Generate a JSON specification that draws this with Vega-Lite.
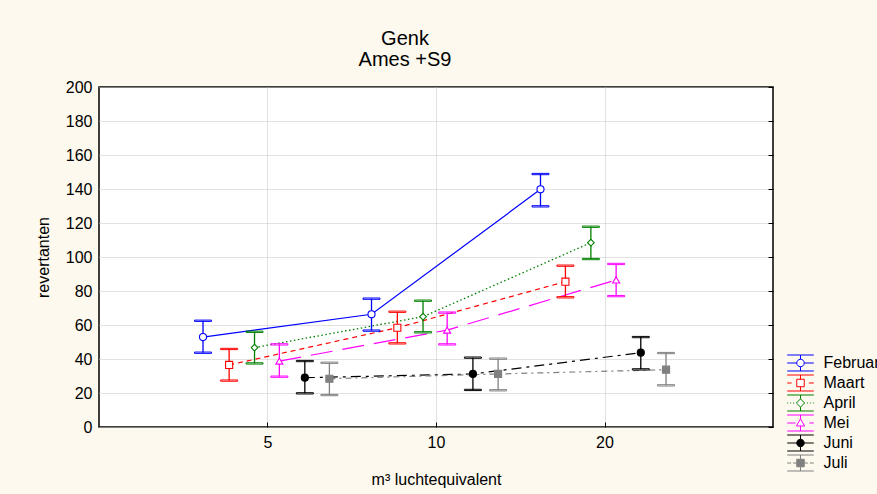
{
  "$schema": "https://vega.github.io/schema/vega-lite/v6.json",
  "autosize": {"type": "none"},
  "width": 674,
  "height": 340,
  "padding": {"left": 99, "top": 87, "right": 104, "bottom": 67},
  "background": "#fdf9ee",
  "title": {
    "text": ["Genk", "Ames +S9"],
    "font": "Liberation Sans",
    "fontSize": 20,
    "fontWeight": "normal",
    "color": "#000000",
    "anchor": "middle",
    "dx": -31,
    "offset": 9,
    "lineHeight": 21
  },
  "data": {
    "values": [
      {"maand": "Februari", "x": 3.835, "y": 52.9, "lo": 43.7, "hi": 62.5},
      {"maand": "Februari", "x": 7.67, "y": 66.3, "lo": 56.7, "hi": 75.5},
      {"maand": "Februari", "x": 15.37, "y": 139.8, "lo": 129.8, "hi": 148.8},
      {"maand": "Maart", "x": 4.27, "y": 36.5, "lo": 27.3, "hi": 45.9},
      {"maand": "Maart", "x": 8.53, "y": 58.4, "lo": 49.2, "hi": 67.8},
      {"maand": "Maart", "x": 17.03, "y": 85.5, "lo": 76.3, "hi": 94.9},
      {"maand": "April", "x": 4.74, "y": 46.7, "lo": 37.4, "hi": 56.0},
      {"maand": "April", "x": 9.48, "y": 64.9, "lo": 55.7, "hi": 74.3},
      {"maand": "April", "x": 18.91, "y": 108.4, "lo": 98.8, "hi": 117.8},
      {"maand": "Mei", "x": 5.25, "y": 38.8, "lo": 29.6, "hi": 48.6},
      {"maand": "Mei", "x": 10.47, "y": 57.0, "lo": 48.6, "hi": 67.3},
      {"maand": "Mei", "x": 20.98, "y": 86.5, "lo": 77.0, "hi": 95.9},
      {"maand": "Juni", "x": 5.83, "y": 29.0, "lo": 19.8, "hi": 38.8},
      {"maand": "Juni", "x": 11.64, "y": 31.2, "lo": 21.8, "hi": 40.8},
      {"maand": "Juni", "x": 23.22, "y": 43.7, "lo": 33.9, "hi": 52.9},
      {"maand": "Juli", "x": 6.45, "y": 28.4, "lo": 18.8, "hi": 37.8},
      {"maand": "Juli", "x": 12.91, "y": 31.2, "lo": 21.6, "hi": 40.2},
      {"maand": "Juli", "x": 25.76, "y": 33.7, "lo": 24.5, "hi": 43.5}
    ]
  },
  "resolve": {"axis": {"y": "independent"}},
  "encoding": {
    "x": {
      "field": "x",
      "type": "quantitative",
      "scale": {"type": "log", "domain": [2.5, 40], "nice": false},
      "axis": {
        "values": [5, 10, 20],
        "format": "d",
        "title": "m³ luchtequivalent",
        "offset": -5,
        "ticks": true,
        "tickSize": 5,
        "tickColor": "#000000",
        "labelPadding": 7,
        "titlePadding": 21
      }
    },
    "y": {
      "field": "y",
      "type": "quantitative",
      "scale": {"domain": [0, 200], "nice": false},
      "axis": null
    },
    "stroke": {
      "field": "maand", "type": "nominal",
      "scale": {
        "domain": ["Februari", "Maart", "April", "Mei", "Juni", "Juli"],
        "range": ["#0000ff", "#ff0000", "#008000", "#ff00ff", "#000000", "#808080"]
      }
    }
  },
  "layer": [
    {
      "transform": [{"filter": "datum.maand === 'Februari'"}],
      "mark": {"type": "line", "strokeWidth": 1.2},
      "encoding": {
        "y": {
          "field": "y",
          "type": "quantitative",
          "axis": {
            "values": [0, 20, 40, 60, 80, 100, 120, 140, 160, 180, 200],
            "title": "revertanten",
            "labelPadding": 7,
            "titlePadding": 14
          }
        }
      }
    },
    {
      "transform": [{"filter": "datum.maand === 'Maart'"}],
      "mark": {"type": "line", "strokeWidth": 1.2, "strokeDash": [5, 4]}
    },
    {
      "transform": [{"filter": "datum.maand === 'April'"}],
      "mark": {"type": "line", "strokeWidth": 1.3, "strokeDash": [1.5, 2.5]}
    },
    {
      "transform": [{"filter": "datum.maand === 'Mei'"}],
      "mark": {"type": "line", "strokeWidth": 1.2, "strokeDash": [22, 10]}
    },
    {
      "transform": [{"filter": "datum.maand === 'Juni'"}],
      "mark": {"type": "line", "strokeWidth": 1.2, "strokeDash": [10, 5, 3, 5]}
    },
    {
      "transform": [{"filter": "datum.maand === 'Juli'"}],
      "mark": {"type": "line", "strokeWidth": 1.2, "strokeDash": [6, 4, 2, 4]}
    },
    {
      "mark": {"type": "rule", "strokeWidth": 1.3},
      "encoding": {
        "y": {"field": "lo", "type": "quantitative", "axis": null},
        "y2": {"field": "hi"}
      }
    },
    {
      "mark": {"type": "tick", "orient": "horizontal", "size": 17, "thickness": 1.3, "opacity": 1},
      "encoding": {
        "y": {"field": "lo", "type": "quantitative", "axis": null},
        "color": {"value": null}
      }
    },
    {
      "mark": {"type": "tick", "orient": "horizontal", "size": 17, "thickness": 1.3, "opacity": 1},
      "encoding": {
        "y": {"field": "hi", "type": "quantitative", "axis": null},
        "color": {"value": null}
      }
    },
    {
      "transform": [{"filter": "datum.maand === 'Februari' || datum.maand === 'Juni'"}],
      "mark": {"type": "point", "shape": "circle", "size": 50, "opacity": 1, "strokeWidth": 1.1},
      "encoding": {
        "fill": {
          "field": "maand", "type": "nominal",
          "scale": {
            "domain": ["Februari", "Maart", "April", "Mei", "Juni", "Juli"],
            "range": ["#ffffff", "#ffffff", "#ffffff", "#ffffff", "#000000", "#808080"]
          }
        }
      }
    },
    {
      "transform": [{"filter": "datum.maand === 'Maart' || datum.maand === 'Juli'"}],
      "mark": {"type": "point", "shape": "square", "size": 50, "opacity": 1, "strokeWidth": 1.1},
      "encoding": {
        "fill": {"field": "maand", "type": "nominal"}
      }
    },
    {
      "transform": [{"filter": "datum.maand === 'April'"}],
      "mark": {"type": "point", "shape": "diamond", "size": 45, "opacity": 1, "strokeWidth": 1.1},
      "encoding": {
        "fill": {"field": "maand", "type": "nominal"}
      }
    },
    {
      "transform": [{"filter": "datum.maand === 'Mei'"}],
      "mark": {"type": "point", "shape": "triangle-up", "size": 50, "opacity": 1, "strokeWidth": 1.1},
      "encoding": {
        "fill": {"field": "maand", "type": "nominal"}
      }
    },
    {
      "transform": [{"filter": "false"}],
      "mark": {"type": "point", "opacity": 1, "strokeWidth": 1},
      "encoding": {
        "y": {
          "field": "y",
          "type": "quantitative",
          "axis": {
            "orient": "right",
            "offset": -5,
            "values": [0, 20, 40, 60, 80, 100, 120, 140, 160, 180, 200],
            "labels": false,
            "grid": false,
            "title": null,
            "ticks": true,
            "tickSize": 5,
            "tickColor": "#000000"
          }
        },
        "shape": {
          "field": "maand", "type": "nominal",
          "scale": {
            "domain": ["Februari", "Maart", "April", "Mei", "Juni", "Juli"],
            "range": [
              "M-1.42,-0.855H1.42M-1.42,0.855H1.42M0,-0.855V-0.4M0,0.4V0.855M-1.42,0H-0.4M0.4,0H1.42M0.4,0A0.4,0.4 0 1 1 -0.4,0A0.4,0.4 0 1 1 0.4,0Z",
              "M-1.42,-0.855H1.42M-1.42,0.855H1.42M0,-0.855V-0.4M0,0.4V0.855M-1.42,0H-0.95M0.9,0H1.42M-0.4,-0.4H0.4V0.4H-0.4Z",
              "M-1.42,-0.855H1.42M-1.42,0.855H1.42M0,-0.855V-0.44M0,0.44V0.855M-1.42,0H-1.32M-1.1,0H-1.0M-0.79,0H-0.68M0.68,0H0.79M1.0,0H1.1M1.32,0H1.42M0,-0.44L0.44,0L0,0.44L-0.44,0Z",
              "M-1.42,-0.855H1.42M-1.42,0.855H1.42M0,-0.855V-0.44M0,0.32V0.855M-1.42,0H-0.53M0.95,0H1.42M0,-0.44L0.44,0.32H-0.44Z",
              "M-1.42,-0.855H1.42M-1.42,0.855H1.42M0,-0.855V-0.4M0,0.4V0.855M-1.42,0H-0.4M0.4,0H1.42M0.4,0A0.4,0.4 0 1 1 -0.4,0A0.4,0.4 0 1 1 0.4,0Z",
              "M-1.42,-0.855H1.42M-1.42,0.855H1.42M0,-0.855V-0.4M0,0.4V0.855M-1.42,0H-1.0M-0.79,0H-0.4M0.4,0H0.79M1.0,0H1.42M-0.4,-0.4H0.4V0.4H-0.4Z"
            ]
          },
          "legend": {"title": null, "orient": "none", "legendX": 691.5, "legendY": 266, "symbolOpacity": 1}
        },
        "stroke": {"field": "maand", "type": "nominal", "legend": {"title": null, "orient": "none", "legendX": 691.5, "legendY": 266, "symbolOpacity": 1}},
        "fill": {"field": "maand", "type": "nominal", "legend": {"title": null, "orient": "none", "legendX": 691.5, "legendY": 266, "symbolOpacity": 1}}
      }
    }
  ],
  "config": {
    "font": "Liberation Sans",
    "view": {"stroke": "#000000", "strokeWidth": 1.5, "fill": "#ffffff"},
    "axis": {
      "domain": false,
      "ticks": false,
      "grid": true,
      "gridColor": "#c4c4c4",
      "gridDash": [1, 1],
      "gridWidth": 1,
      "labelFont": "Liberation Sans",
      "labelFontSize": 16,
      "labelColor": "#000000",
      "titleFont": "Liberation Sans",
      "titleFontSize": 16,
      "titleFontWeight": "normal",
      "titleColor": "#000000"
    },
    "legend": {
      "symbolSize": 350,
      "symbolStrokeWidth": 1,
      "symbolOpacity": 1,
      "labelFont": "Liberation Sans",
      "labelFontSize": 16,
      "labelColor": "#000000",
      "labelOffset": 13,
      "rowPadding": 0,
      "padding": 0
    }
  }
}
